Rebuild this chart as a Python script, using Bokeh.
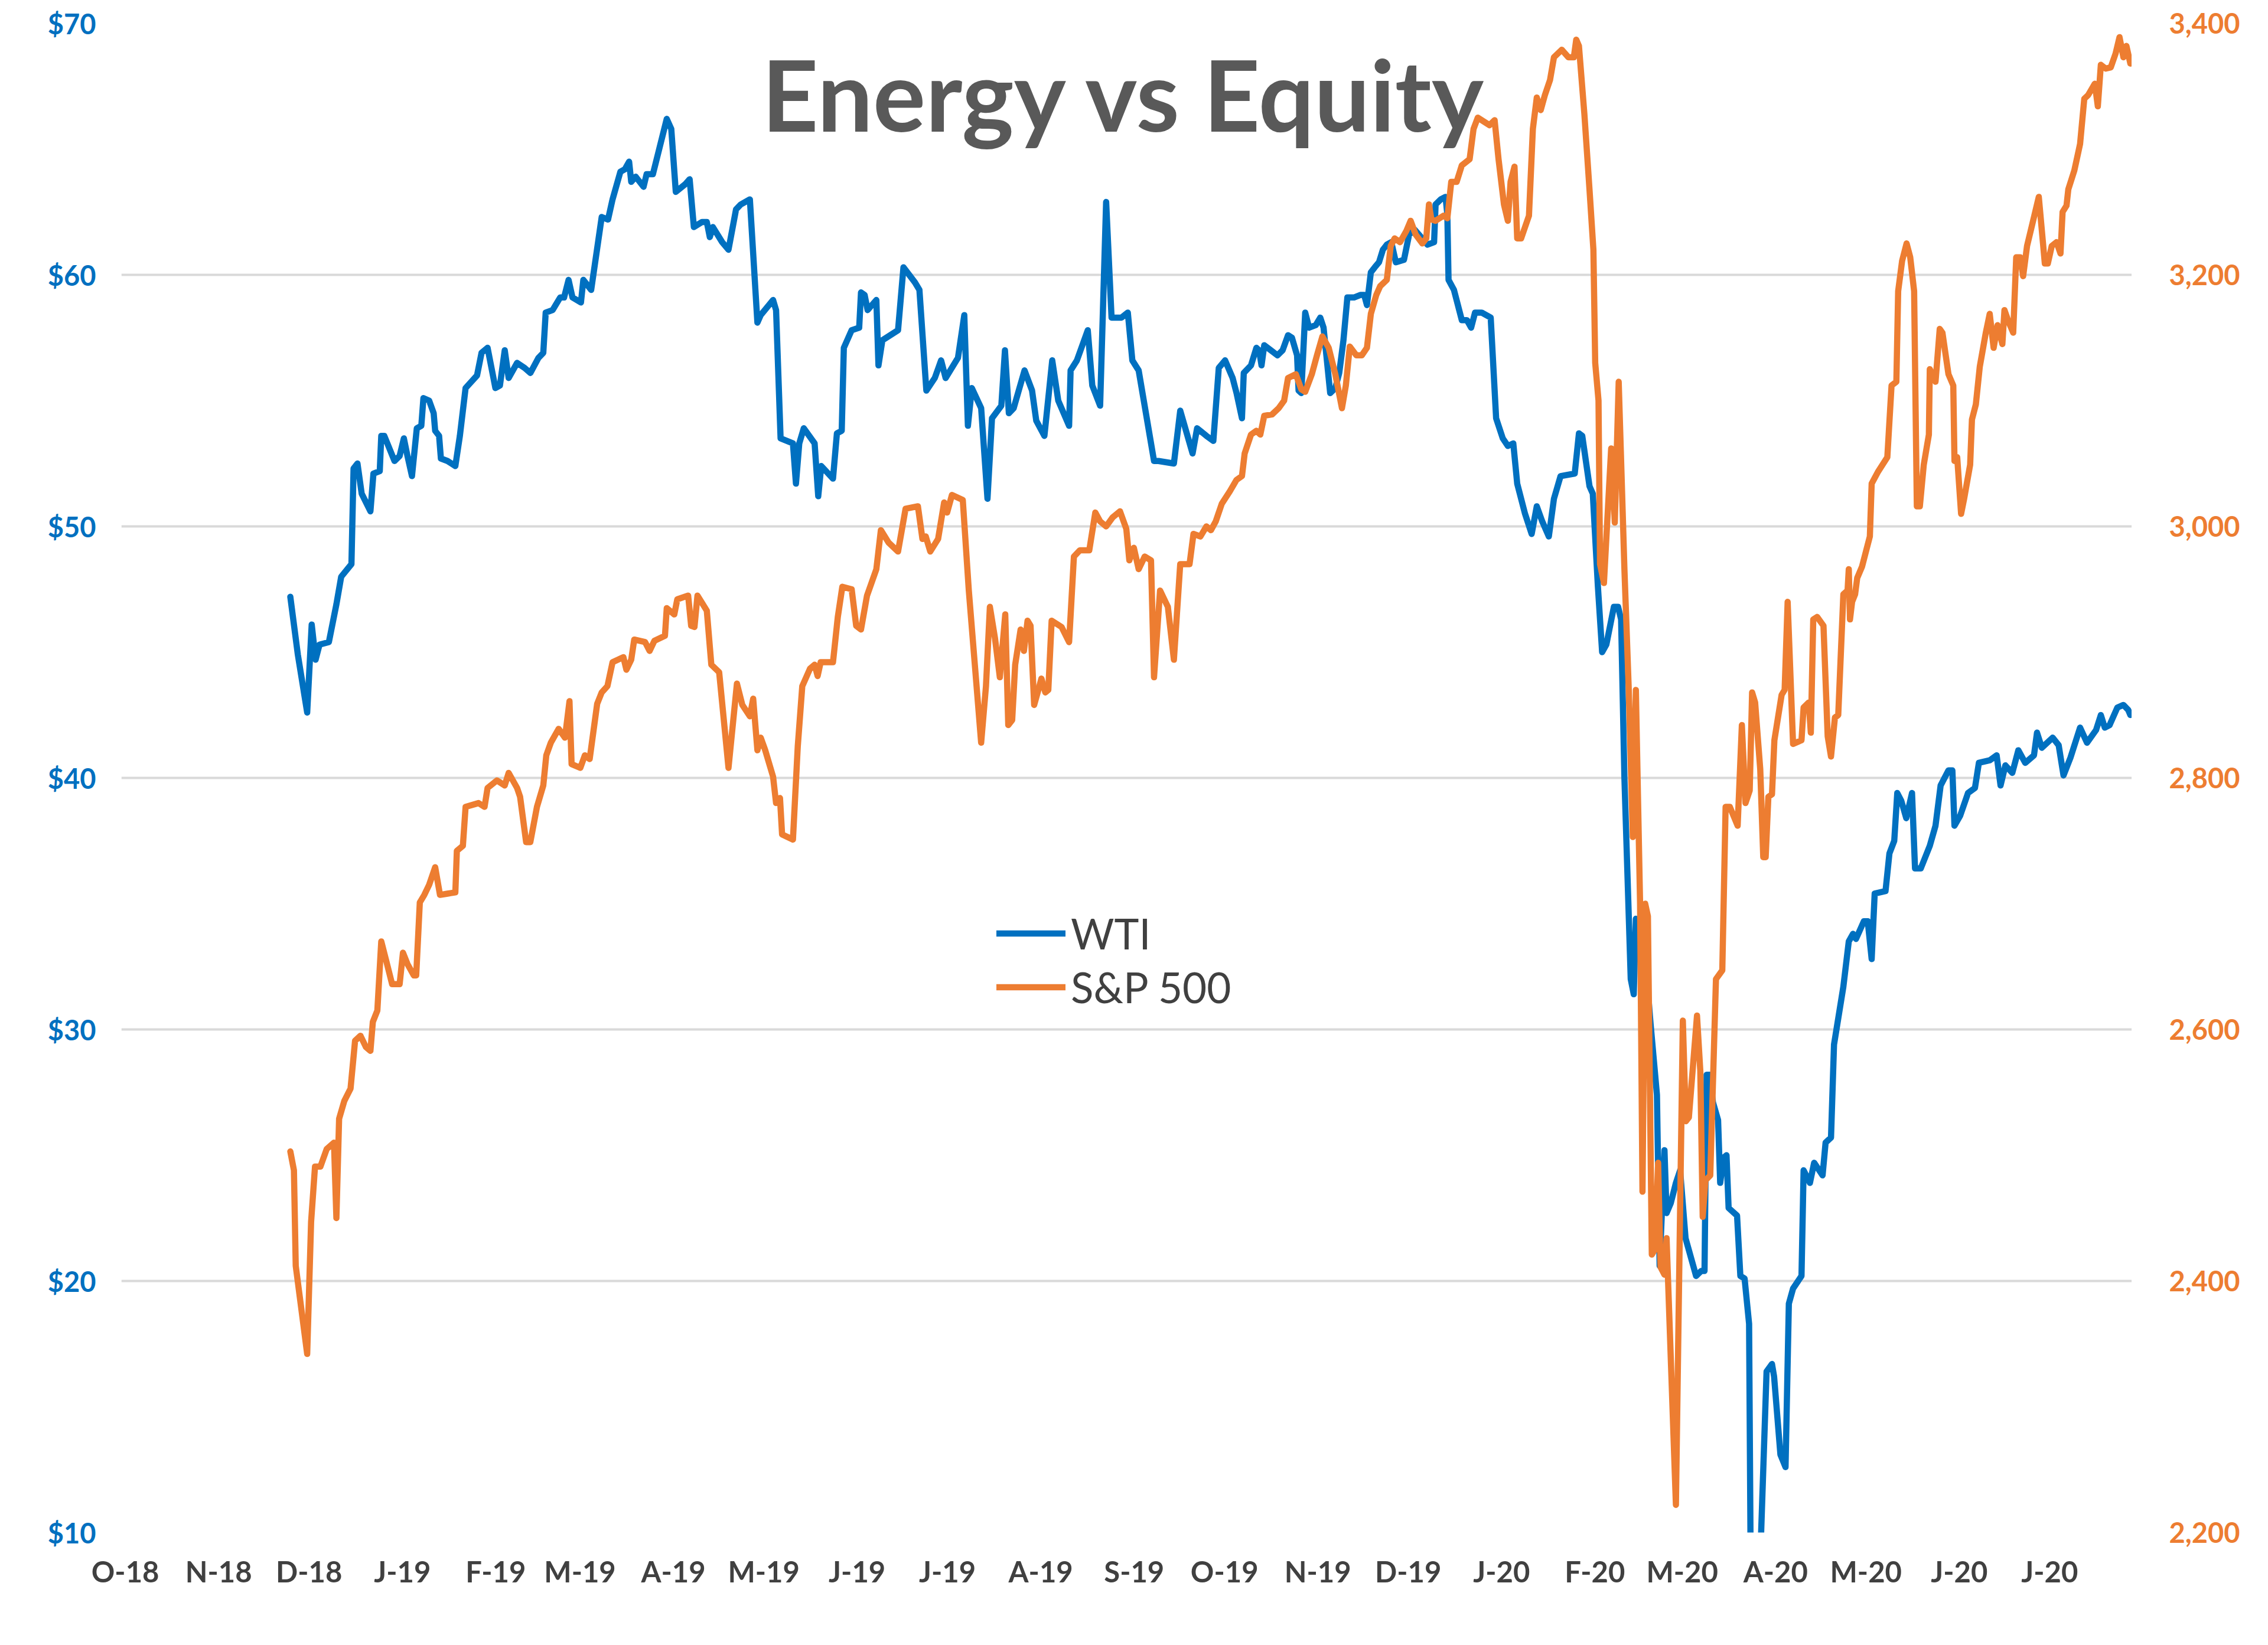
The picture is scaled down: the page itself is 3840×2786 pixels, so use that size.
import datetime as dt
from bokeh.plotting import figure
from bokeh.layouts import row
from bokeh.models import (Range1d, FixedTicker, NumeralTickFormatter,
                          Label, Legend, LegendItem)
from bokeh.embed import file_html
from bokeh.resources import INLINE

# ---------------- data (x = chart day counted from 1 Oct 2018) ----------------
month_starts = ["2018-10-01", "2018-11-01", "2018-12-01", "2019-01-01", "2019-02-01",
                "2019-03-01", "2019-04-01", "2019-05-01", "2019-06-01", "2019-07-01",
                "2019-08-01", "2019-09-01", "2019-10-01", "2019-11-01", "2019-12-01",
                "2020-01-01", "2020-02-01", "2020-03-01", "2020-04-01", "2020-05-01",
                "2020-06-01", "2020-07-01"]
month_labels = ["O-18", "N-18", "D-18", "J-19", "F-19", "M-19", "A-19", "M-19", "J-19",
                "J-19", "A-19", "S-19", "O-19", "N-19", "D-19", "J-20", "F-20", "M-20",
                "A-20", "M-20", "J-20", "J-20"]

wti_day = [
    54.8, 57.3, 60.4, 61.9, 63.2, 64.5, 67.6, 70.1, 71.7, 75.1,
    75.8, 77.1, 78.5, 81.4, 82.4, 84.5, 85.0, 86.0, 89.4, 91.1,
    92.5, 93.7, 95.2, 96.8, 98.3, 99.0, 100.9, 102.4, 102.9, 104.2,
    104.8, 107.0, 109.6, 111.1, 113.0, 116.8, 118.3, 120.3, 122.9, 124.4,
    126.0, 127.3, 130.1, 132.6, 134.5, 137.2, 138.8, 139.6, 141.9, 144.4,
    145.7, 147.2, 148.5, 151.3, 152.1, 154.7, 158.2, 160.3, 161.8, 164.4,
    165.9, 167.3, 168.0, 169.5, 172.1, 173.1, 175.2, 179.8, 181.3, 182.8,
    185.9, 187.4, 188.8, 191.5, 193.1, 194.1, 195.1, 198.2, 200.3, 202.8,
    204.4, 207.4,
    209.9, 211.0, 215.1, 216.1, 217.6, 221.7, 222.7, 223.8, 225.3, 228.9,
    230.1, 231.1, 235.0, 236.3, 237.9, 238.6, 241.2, 243.7, 244.3, 245.5,
    246.5, 249.4, 250.1, 251.4, 256.6, 258.4, 262.2, 263.7, 266.0, 268.8,
    270.9, 272.4, 276.5, 278.6, 279.8, 281.1, 284.2, 286.3, 287.8, 290.9,
    292.1, 293.4, 295.0, 298.6, 301.1, 302.5, 305.2, 307.8, 309.8, 313.4,
    313.9, 316.0, 319.6, 321.1, 323.7, 325.7, 327.5, 330.8, 332.9, 334.4,
    336.5, 341.6, 343.1, 348.2, 350.3, 354.4, 355.9, 359.0, 361.3, 363.1,
    365.2,
    367.7, 369.0, 370.8, 371.4, 373.8, 375.6, 376.5, 377.3, 378.2, 380.4,
    382.6, 384.3, 386.1, 387.4, 389.1, 389.6, 390.5, 391.8, 393.1, 395.3,
    396.8, 397.9, 400.1, 401.8, 403.1, 404.5, 405.8, 408.0, 410.1, 411.4,
    412.3, 413.6, 414.9, 416.3, 417.6, 418.9, 420.4, 421.9, 424.6, 426.3,
    428.1, 430.3, 432.4, 434.6, 435.1, 436.8, 438.4, 439.0, 439.4, 441.2,
    443.8, 445.5, 446.9, 448.2, 450.4, 453.4, 455.2, 457.4, 459.1, 460.9,
    462.2, 464.8, 467.0, 468.7, 470.5, 472.7, 474.4, 476.6,
    481.3, 482.7, 483.8, 486.2, 487.3, 489.0, 490.4, 491.8, 494.3, 495.7,
    496.7, 497.8, 499.9, 500.9, 501.6, 503.0, 504.8, 506.5, 508.6, 509.5,
    511.1, 511.8, 513.2, 514.9, 516.3, 518.1, 521.6, 523.3, 524.4, 525.1,
    526.1, 527.2, 528.9, 529.6, 530.7, 531.7, 532.4, 535.2, 536.3, 537.7,
    539.2, 542.2, 543.2, 545.0, 546.8, 547.5, 549.6, 551.3, 552.4, 553.8,
    556.6, 557.3, 559.4, 560.8, 563.6, 564.6, 566.4, 567.4, 570.5, 572.3,
    573.7,
    574.7, 577.3, 578.6, 579.9, 580.9, 584.5, 585.8, 587.4, 588.4, 589.7,
    591.4, 593.3, 594.3, 596.2, 599.2, 601.1, 602.8, 605.4, 606.7, 607.4,
    609.3, 611.9, 614.2, 615.5, 619.1, 621.4, 622.7, 624.3, 626.6, 628.6,
    630.9, 633.8, 634.8, 636.4, 640.0, 642.0, 643.6, 645.9, 649.1, 651.4,
    654.4, 656.0, 657.3, 658.9, 661.5, 663.5, 665.1, 665.8,
]
wti_usd = [
    47.2, 44.9, 42.6, 46.1, 44.7, 45.3, 45.4, 46.9, 48.0, 48.5,
    52.3, 52.5, 51.3, 50.6, 52.1, 52.2, 53.6, 53.6, 52.6, 52.8,
    53.5, 52.8, 52.0, 53.9, 54.0, 55.1, 55.0, 54.5, 53.8, 53.6,
    52.7, 52.6, 52.4, 53.6, 55.5, 56.0, 56.9, 57.1, 55.5, 55.6,
    57.0, 55.9, 56.5, 56.3, 56.1, 56.7, 56.9, 58.5, 58.6, 59.1,
    59.1, 59.8, 59.1, 58.9, 59.8, 59.4, 62.3, 62.2, 63.0, 64.1,
    64.2, 64.5, 63.7, 63.9, 63.5, 64.0, 64.0, 66.2, 65.8, 63.3,
    63.6, 63.8, 61.9, 62.1, 62.1, 61.5, 61.9, 61.3, 61.0, 62.6,
    62.8, 63.0,
    58.1, 58.4, 59.0, 58.6, 53.5, 53.3, 51.7, 53.3, 53.9, 53.3,
    51.2, 52.4, 51.9, 53.7, 53.8, 57.1, 57.8, 57.9, 59.3, 59.2,
    58.6, 59.0, 56.4, 57.4, 57.8, 60.3, 59.7, 59.4, 55.4, 55.9,
    56.6, 55.9, 56.7, 58.4, 54.0, 55.5, 54.7, 51.1, 54.3, 54.8,
    57.0, 54.5, 54.7, 56.2, 55.4, 54.2, 53.6, 56.6, 55.0, 54.0,
    56.2, 56.6, 57.8, 55.6, 54.8, 62.9, 58.3, 58.3, 58.5, 56.6,
    56.2, 52.6, 52.6, 52.5, 54.6, 52.9, 53.9, 53.6, 53.4, 56.3,
    56.6,
    55.9, 55.3, 54.3, 56.1, 56.4, 57.1, 57.0, 56.4, 57.2, 57.0,
    56.8, 57.0, 57.6, 57.5, 56.8, 55.4, 55.3, 58.5, 57.9, 58.0,
    58.3, 57.9, 55.3, 55.5, 56.1, 57.4, 59.1, 59.1, 59.2, 59.2,
    58.8, 60.1, 60.3, 60.5, 61.0, 61.2, 61.3, 60.5, 60.6, 61.6,
    61.8, 61.5, 61.2, 61.3, 62.8, 63.0, 63.1, 62.4, 59.8, 59.4,
    58.2, 58.2, 57.9, 58.5, 58.5, 58.3, 54.3, 53.5, 53.2, 53.3,
    51.7, 50.5, 49.7, 50.8, 50.2, 49.6, 51.1, 52.0,
    52.1, 53.7, 53.6, 51.6, 51.3, 47.6, 45.0, 45.3, 46.8, 46.8,
    46.3, 40.0, 32.0, 31.4, 34.4, 34.2, 32.7, 30.2, 27.4, 20.6,
    25.2, 22.7, 23.1, 23.9, 24.4, 21.7, 20.2, 20.4, 20.4, 28.2,
    28.2, 27.1, 26.4, 23.9, 24.9, 25.0, 22.9, 22.6, 20.2, 20.1,
    18.3, -37.6, 10.0, 16.4, 16.7, 16.2, 13.1, 12.6, 19.1, 19.7,
    20.2, 24.4, 23.9, 24.7, 24.2, 25.5, 25.7, 29.4, 31.7, 33.5,
    33.8,
    33.6, 34.3, 34.3, 32.8, 35.4, 35.5, 37.0, 37.5, 39.4, 39.1,
    38.4, 39.4, 36.4, 36.4, 37.3, 38.1, 39.7, 40.3, 40.3, 38.1,
    38.5, 39.4, 39.6, 40.6, 40.7, 40.9, 39.7, 40.5, 40.2, 41.1,
    40.6, 40.9, 41.8, 41.2, 41.6, 41.3, 40.1, 40.8, 42.0, 41.4,
    41.9, 42.5, 42.0, 42.1, 42.8, 42.9, 42.7, 42.5,
]

spx_day = [
    54.8, 56.0, 56.6, 60.4, 61.7, 63.0, 64.8, 66.9, 69.3, 70.1,
    71.0, 72.7, 74.8, 76.3, 78.1, 79.9, 81.4, 82.2, 83.7, 85.0,
    86.5, 88.6, 91.1, 92.2, 93.7, 95.8, 96.6, 97.8, 99.3, 100.9,
    102.9, 104.5, 107.0, 109.6, 110.1, 112.1, 113.0, 117.3, 119.3, 120.3,
    123.4, 126.0, 127.3, 130.1, 131.1, 133.1, 134.5, 136.7, 138.8, 139.8,
    141.3, 143.9, 146.0, 147.5, 148.2, 151.1, 152.6, 154.2, 156.7, 158.2,
    160.1, 161.8, 165.4, 166.4, 168.0, 169.0, 172.6, 174.1, 175.7, 179.2,
    179.8, 182.3, 183.3, 186.9, 187.9, 189.0, 190.0, 193.1, 194.6, 197.2,
    200.3, 203.1, 204.9, 207.4, 208.5,
    209.9, 211.0, 212.5, 215.1, 216.1, 217.4, 218.1, 221.7, 223.3, 224.8,
    227.4, 228.9, 229.9, 230.9, 235.0, 236.6, 238.1, 241.2, 242.7, 244.3,
    246.3, 249.4, 250.9, 253.5, 256.6, 259.1, 263.2, 264.7, 265.8, 267.3,
    269.9, 271.9, 272.9, 274.5, 278.1, 280.1, 282.2, 284.2, 285.8, 287.1,
    288.8, 290.4, 292.2, 293.2, 294.5, 295.5, 297.3, 298.4, 299.6, 300.6,
    301.8, 303.2, 304.2, 305.5, 306.5, 307.6, 310.9, 313.4, 315.0, 317.0,
    320.1, 322.1, 323.7, 325.7, 327.8, 330.3, 332.4, 333.4, 334.9, 336.5,
    338.5, 340.6, 341.6, 343.6, 346.2, 348.2, 350.3, 353.4, 354.7, 357.0,
    359.0, 360.5, 362.1, 364.1,
    366.8, 369.0, 370.8, 371.7, 373.8, 375.6, 376.9, 378.2, 380.8, 383.0,
    384.8, 386.1, 388.7, 390.5, 391.8, 394.0, 395.7, 397.5, 399.6, 401.8,
    404.0, 405.3, 406.6, 408.8, 410.6, 412.3, 413.6, 415.4, 416.7, 418.9,
    420.2, 421.5, 423.3, 425.4, 426.8, 428.5, 430.7, 432.0, 432.9, 433.7,
    435.1, 437.7, 439.0, 440.3, 442.1, 443.8, 446.4, 447.7, 449.1, 451.7,
    453.0, 454.7, 456.0, 457.8, 459.1, 460.0, 461.3, 462.2, 463.5, 466.1,
    467.4, 468.7, 470.0, 471.4, 473.1, 474.4, 477.0, 479.2, 481.0, 481.8,
    482.7, 484.5, 486.2, 487.5,
    488.1, 489.2, 489.7, 491.0, 493.4, 494.6, 495.9, 497.8, 499.2, 500.6,
    501.6, 503.0, 503.8, 504.7, 505.6, 506.9, 507.9, 509.0, 509.8, 511.1,
    511.8, 514.9, 516.2, 517.2, 518.2, 519.2, 521.9, 523.0, 523.8, 524.7,
    526.3, 528.2, 530.3, 531.4, 532.8, 535.4, 536.8, 538.0, 539.4, 540.2,
    541.2, 542.9, 543.9, 544.7, 545.6, 546.8, 547.6, 550.0, 551.0, 552.0,
    553.8, 556.6, 557.3, 559.0, 559.7, 560.5, 561.8, 563.9, 565.3, 566.4,
    567.7, 568.8, 570.5, 571.9, 572.3, 572.7, 573.4, 574.4, 575.1,
    576.7, 579.3, 579.9, 581.9, 585.1, 586.5, 588.1, 588.7, 590.0, 591.5,
    592.7, 594.0, 594.9, 595.9, 597.2, 598.9, 599.2, 601.1, 602.5, 603.4,
    605.4, 607.0, 607.4, 608.3, 609.6, 610.6, 612.6, 613.2, 614.5, 615.8,
    617.8, 619.1, 620.4, 621.7, 623.3, 624.0, 625.3, 626.9, 627.9, 629.2,
    630.2, 631.5, 633.5, 635.4, 637.4, 638.4, 639.7, 641.3, 642.6, 643.3,
    644.6, 645.2, 647.2, 649.1, 650.5, 651.8, 654.0, 655.0, 656.0, 657.6,
    659.3, 660.9, 662.2, 663.5, 664.5, 665.8,
]
spx_close = [
    2503, 2488, 2412, 2342, 2447, 2491, 2491, 2505, 2510, 2450,
    2529, 2543, 2553, 2591, 2595, 2586, 2583, 2606, 2615, 2670,
    2656, 2636, 2636, 2661, 2652, 2643, 2643, 2701, 2707, 2715,
    2729, 2707, 2708, 2709, 2742, 2746, 2777, 2780, 2777, 2792,
    2798, 2794, 2804, 2792, 2785, 2749, 2749, 2777, 2794, 2818,
    2828, 2839, 2832, 2861, 2811, 2808, 2818, 2815, 2859, 2868,
    2873, 2892, 2896, 2886, 2894, 2910, 2908, 2901, 2909, 2913,
    2935, 2930, 2942, 2945, 2921, 2920, 2945, 2933, 2890, 2884,
    2808, 2875, 2858, 2849, 2863,
    2822, 2832, 2822, 2801, 2780, 2784, 2755, 2751, 2825, 2873,
    2887, 2890, 2881, 2892, 2892, 2928, 2952, 2950, 2921, 2918,
    2945, 2966, 2997, 2987, 2980, 3014, 3016, 2990, 2992, 2980,
    2990, 3019, 3011, 3025, 3021, 2949, 2887, 2828, 2873, 2936,
    2911, 2880, 2930, 2842, 2846, 2890, 2918, 2901, 2925, 2921,
    2858, 2870, 2879, 2868, 2870, 2925, 2920, 2908, 2976, 2981,
    2981, 3011, 3004, 3000, 3007, 3012, 2998, 2973, 2983, 2966,
    2976, 2973, 2880, 2949, 2936, 2894, 2970, 2970, 2994, 2992,
    3000, 2997, 3004, 3018,
    3028, 3037, 3040, 3058, 3073, 3076, 3073, 3088, 3089, 3094,
    3100, 3118, 3121, 3109, 3107, 3121, 3136, 3151, 3142, 3121,
    3094, 3112, 3143, 3136, 3136, 3142, 3169, 3184, 3191, 3196,
    3223, 3229, 3226, 3235, 3243, 3232, 3225, 3229, 3256, 3244,
    3243, 3247, 3245, 3274, 3274, 3287, 3292, 3316, 3325, 3321,
    3319, 3323, 3292, 3256, 3243, 3274, 3286, 3229, 3229, 3247,
    3316, 3341, 3331, 3343, 3355, 3373, 3379, 3373, 3373, 3387,
    3382, 3328, 3268, 3220,
    3130, 3100, 2970, 2955, 3062, 3003, 3115, 2966, 2873, 2753,
    2870, 2700, 2471, 2700, 2690, 2421, 2425, 2494, 2411, 2405,
    2434, 2222, 2441, 2607, 2527, 2530, 2611, 2567, 2451, 2480,
    2484, 2640, 2647, 2777, 2777, 2762, 2842, 2780, 2790, 2868,
    2860, 2807, 2737, 2737, 2785, 2787, 2830, 2866, 2870, 2940,
    2827, 2830, 2856, 2860, 2836, 2926, 2928, 2921, 2833, 2817,
    2848, 2850, 2946, 2949, 2966, 2926, 2940, 2946, 2959,
    2968, 2992, 3034, 3043, 3055, 3112, 3115, 3187, 3211, 3225,
    3214, 3187, 3016, 3016, 3049, 3073, 3125, 3115, 3157, 3154,
    3121, 3112, 3052, 3055, 3010, 3022, 3049, 3085, 3097, 3127,
    3154, 3169, 3142, 3160, 3145, 3172, 3163, 3154, 3214, 3214,
    3199, 3223, 3243, 3262, 3209, 3209, 3223, 3226, 3217, 3250,
    3255, 3268, 3283, 3304, 3340, 3343, 3352, 3334, 3367, 3364,
    3365, 3376, 3389, 3373, 3382, 3368,
]

wti_ticks = [10, 20, 30, 40, 50, 60, 70]
spx_ticks = [2200, 2400, 2600, 2800, 3000, 3200, 3400]

# ---------------- styling ----------------
BLUE = "#0070C0"
ORANGE = "#ED7D31"
FONT = "Lato"
X0, X1 = -1.3, 666.3
TOP, BOTTOM = 39, 175
H = 2770

base = dt.date(2018, 10, 1)
tick_days = [(dt.date.fromisoformat(m) - base).days for m in month_starts]

# main chart (frame spans the plotting area, no right border)
p = figure(width=3609, height=H, output_backend="svg", toolbar_location=None,
           x_range=Range1d(X0, X1), y_range=Range1d(10, 70),
           min_border_left=205, min_border_right=0, min_border_top=TOP,
           min_border_bottom=BOTTOM)
p.outline_line_color = None
p.background_fill_color = "white"
p.border_fill_color = "white"
p.extra_y_ranges = {"spx": Range1d(2200, 3400)}

p.xgrid.visible = False
p.ygrid.grid_line_color = "#D9D9D9"
p.ygrid.grid_line_width = 4

p.yaxis.ticker = FixedTicker(ticks=wti_ticks)
p.yaxis.formatter = NumeralTickFormatter(format="$0")
p.xaxis.ticker = FixedTicker(ticks=tick_days)
p.xaxis.major_label_overrides = {d: l for d, l in zip(tick_days, month_labels)}


def style_axis(ax, color, size):
    ax.axis_line_color = None
    ax.major_tick_line_color = None
    ax.minor_tick_line_color = None
    ax.major_tick_out = 0
    ax.major_tick_in = 0
    ax.minor_tick_out = 0
    ax.major_label_text_font = FONT
    ax.major_label_text_font_style = "bold"
    ax.major_label_text_font_size = size
    ax.major_label_text_color = color


style_axis(p.yaxis[0], BLUE, "47px")
p.yaxis[0].major_label_standoff = 43
style_axis(p.xaxis[0], "#404040", "49px")
p.xaxis[0].major_label_standoff = 36

r_wti = p.line(wti_day, wti_usd, line_color=BLUE, line_width=10.5,
               line_join="round", line_cap="round")
r_spx = p.line(spx_day, spx_close, y_range_name="spx", line_color=ORANGE,
               line_width=10.5, line_join="round", line_cap="round")

legend = Legend(items=[LegendItem(label="WTI", renderers=[r_wti]),
                       LegendItem(label="S&P 500", renderers=[r_spx])],
                location=(1482, 878), orientation="vertical",
                glyph_width=117, glyph_height=91, label_height=91,
                label_standoff=9, spacing=0, padding=0, margin=0,
                border_line_color=None, background_fill_alpha=0,
                label_text_font=FONT, label_text_font_size="71px",
                label_text_color="#404040")
p.add_layout(legend)

title = Label(x=332.0, y=67.2, text="Energy vs Equity", text_font=FONT,
              text_font_size="167px", text_font_style="bold",
              text_color="#595959", text_align="center",
              text_baseline="alphabetic")
p.add_layout(title)

# secondary (S&P 500) scale, drawn as its own axis strip at the right
side = figure(width=215, height=H, output_backend="svg", toolbar_location=None,
              x_range=Range1d(0, 1), y_range=p.extra_y_ranges["spx"],
              min_border_left=183, min_border_right=0, min_border_top=TOP,
              min_border_bottom=BOTTOM)
side.outline_line_color = None
side.background_fill_color = "white"
side.border_fill_color = "white"
side.xaxis.visible = False
side.xgrid.visible = False
side.ygrid.visible = False
side.yaxis.ticker = FixedTicker(ticks=spx_ticks)
side.yaxis.formatter = NumeralTickFormatter(format="0,0")
style_axis(side.yaxis[0], ORANGE, "47px")
side.yaxis[0].major_label_standoff = 0

layout = row(p, side, spacing=0)
open("out.html", "w").write(file_html(layout, INLINE))
